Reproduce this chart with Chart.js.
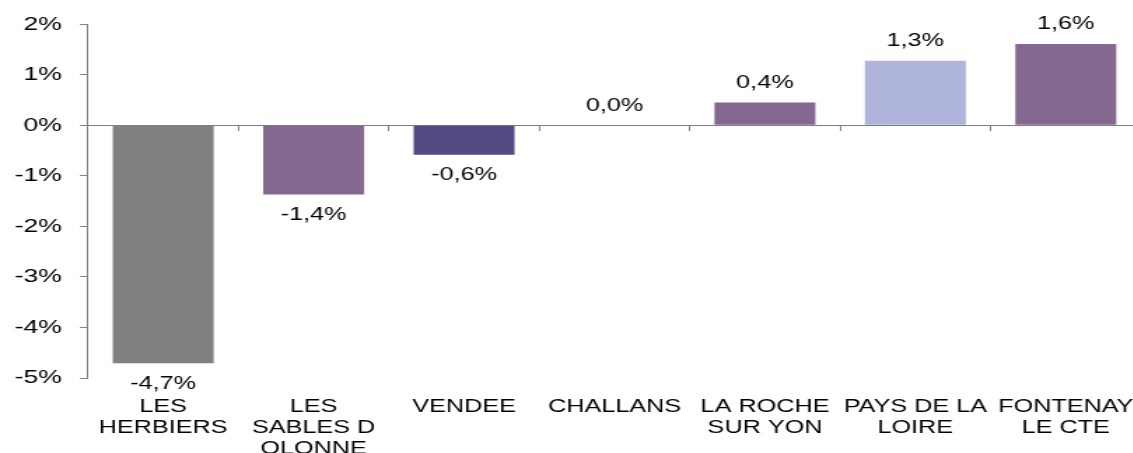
<!DOCTYPE html>
<html>
<head>
<meta charset="utf-8">
<script src="https://cdn.jsdelivr.net/npm/chart.js@4/dist/chart.umd.min.js"></script>
<style>
  html, body { margin: 0; padding: 0; background: #fff; overflow: hidden; }
  #wrap { width: 1133px; height: 453px; overflow: hidden; }
</style>
</head>
<body>
<!-- the source picture is stretched sideways, so the canvas is drawn narrow and widened by CSS -->
<div id="wrap"><canvas id="chart" height="453" style="display:block;width:1141px;height:453px"></canvas></div>
<script>
const categories = [
  ["LES", "HERBIERS"],
  ["LES", "SABLES D", "OLONNE"],
  "VENDEE",
  "CHALLANS",
  ["LA ROCHE", "SUR YON"],
  ["PAYS DE LA", "LOIRE"],
  ["FONTENAY", "LE CTE"],
];
const values = [-4.71, -1.37, -0.58, 0.0, 0.45, 1.28, 1.61];
const valueLabels = ["-4,7%", "-1,4%", "-0,6%", "0,0%", "0,4%", "1,3%", "1,6%"];
const barColors = ["#808080", "#84688f", "#524a80", "#84688f", "#84688f", "#aeb4da", "#84688f"];
const yTicks = [-5, -4, -3, -2, -1, 0, 1, 2];

const STRETCH = 1.4;
const FONT = "Arial, 'Liberation Sans', sans-serif";
const AXIS_GREY = "#7f7f7f";

const canvas = document.getElementById("chart");
canvas.width = Math.round(1141 / STRETCH);

Chart.defaults.color = "#000";
Chart.defaults.font.family = FONT;

const barLabels = {
  id: "barLabels",
  afterDatasetsDraw(chart) {
    const ctx = chart.ctx;
    const meta = chart.getDatasetMeta(0);
    ctx.save();
    ctx.font = `18px ${FONT}`;
    ctx.fillStyle = "#000";
    ctx.textAlign = "center";
    ctx.textBaseline = "middle";
    meta.data.forEach((bar, i) => {
      const y = values[i] < 0 ? bar.y + 20.5 : bar.y - 19.5;
      ctx.fillText(valueLabels[i], bar.x, y);
    });
    ctx.restore();
  },
};

new Chart(canvas, {
  type: "bar",
  data: {
    labels: categories,
    datasets: [{
      data: values,
      backgroundColor: barColors,
      borderWidth: 0,
      categoryPercentage: 1,
      barPercentage: 0.671,
    }],
  },
  options: {
    responsive: false,
    devicePixelRatio: 1,
    animation: false,
    layout: { padding: { top: 24, right: 0, bottom: 0, left: 0 } },
    plugins: { legend: { display: false }, tooltip: { enabled: false } },
    scales: {
      x: {
        position: "bottom",
        grid: { display: false, drawTicks: false },
        border: { display: false },
        ticks: {
          autoSkip: false,
          maxRotation: 0,
          padding: 18.5,
          font: { size: 18, lineHeight: 1.167 },
        },
        afterFit: (scale) => {
          scale.height = 75;
          scale.paddingLeft = 0;
          scale.paddingRight = 0;
        },
      },
      zero: {
        type: "category",
        axis: "x",
        position: { y: 0 },
        offset: true,
        grid: { offset: true, drawOnChartArea: false, drawTicks: true, tickLength: 5, color: AXIS_GREY, lineWidth: 1 },
        border: { display: true, color: AXIS_GREY, width: 1 },
        ticks: { display: false },
      },
      y: {
        position: "left",
        min: -5,
        max: 2,
        afterBuildTicks: (scale) => { scale.ticks = yTicks.map((v) => ({ value: v })); },
        grid: { drawOnChartArea: false, drawTicks: true, tickLength: 5.7, color: AXIS_GREY },
        border: { display: true, color: AXIS_GREY, width: 1 },
        ticks: {
          padding: 12.9,
          font: { size: 19 },
          callback: (v) => v + "%",
        },
        afterFit: (scale) => { scale.width = 88 / STRETCH; },
      },
    },
  },
  plugins: [barLabels],
});
</script>
</body>
</html>
